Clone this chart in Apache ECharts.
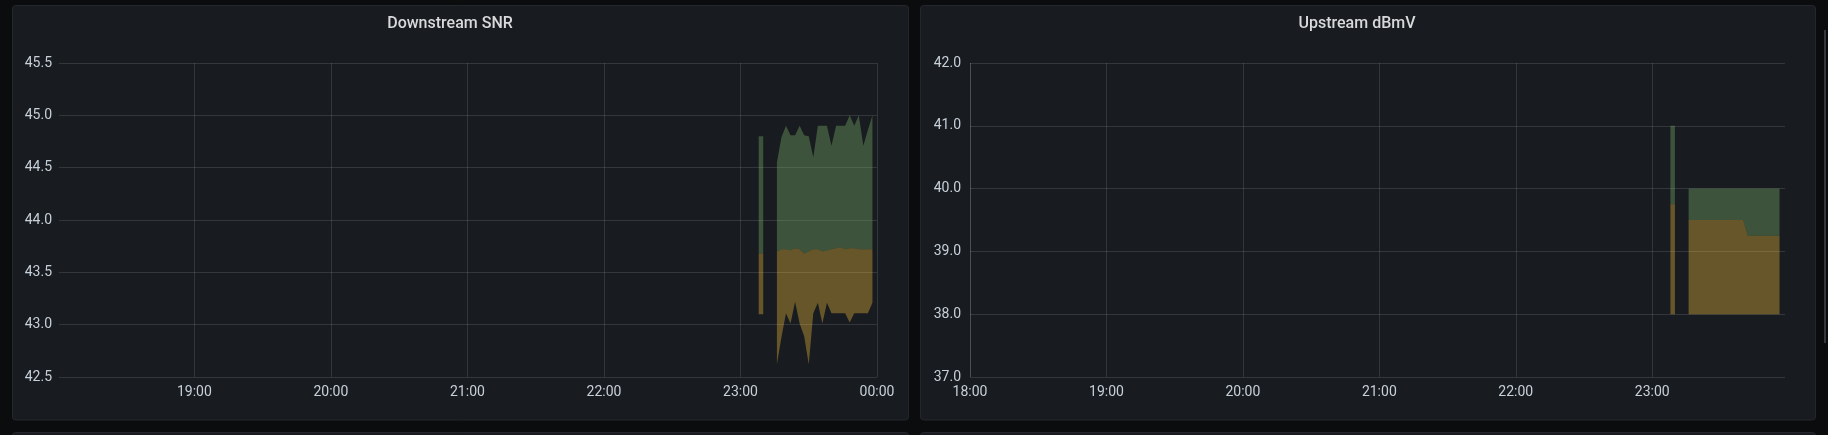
<!DOCTYPE html>
<html>
<head>
<meta charset="utf-8">
<script src="https://cdn.jsdelivr.net/npm/echarts@6/dist/echarts.min.js"></script>
<style>
  html, body { margin: 0; padding: 0; background: #0b0c0e; }
  #chart { width: 1828px; height: 435px; }
</style>
</head>
<body>
<div id="chart"></div>
<script>
// ---------- DATA ----------
const titles = ['Downstream SNR', 'Upstream dBmV'];

// Downstream SNR (2-minute samples, null = no data)
const dsTimes = ['23:08','23:10','23:12','23:14','23:16','23:18','23:20','23:22','23:24','23:26',
                 '23:28','23:30','23:32','23:34','23:36','23:38','23:40','23:42','23:44','23:46',
                 '23:48','23:50','23:52','23:54','23:56','23:58'];
const dsMax  = [44.80, 44.80, null, null, 44.55, 44.79, 44.90, 44.81, 44.81, 44.90,
                44.81, 44.80, 44.60, 44.90, 44.90, 44.90, 44.71, 44.90, 44.90, 44.90,
                45.00, 44.90, 45.00, 44.71, 44.86, 45.00];
const dsMean = [43.68, 43.68, null, null, 43.70, 43.72, 43.72, 43.71, 43.73, 43.72,
                43.68, 43.70, 43.72, 43.72, 43.70, 43.71, 43.72, 43.73, 43.74, 43.72,
                43.73, 43.73, 43.72, 43.72, 43.72, 43.72];
const dsMin  = [43.10, 43.10, null, null, 42.62, 42.88, 43.11, 43.01, 43.22, 43.01,
                42.89, 42.62, 43.11, 43.21, 43.01, 43.21, 43.11, 43.11, 43.11, 43.11,
                43.02, 43.11, 43.11, 43.11, 43.11, 43.21];

// Upstream dBmV
const usTimes = ['23:08','23:10','23:12','23:14','23:16','23:18','23:20','23:22','23:24','23:26',
                 '23:28','23:30','23:32','23:34','23:36','23:38','23:40','23:42','23:44','23:46',
                 '23:48','23:50','23:52','23:54','23:56'];
const usMax  = [41.00, 41.00, null, null, 40.00, 40.00, 40.00, 40.00, 40.00, 40.00,
                40.00, 40.00, 40.00, 40.00, 40.00, 40.00, 40.00, 40.00, 40.00, 40.00,
                40.00, 40.00, 40.00, 40.00, 40.00];
const usMean = [39.75, 39.75, null, null, 39.50, 39.50, 39.50, 39.50, 39.50, 39.50,
                39.50, 39.50, 39.50, 39.50, 39.50, 39.50, 39.50, 39.25, 39.25, 39.25,
                39.25, 39.25, 39.25, 39.25, 39.25];
const usMin  = [38.00, 38.00, null, null, 38.00, 38.00, 38.00, 38.00, 38.00, 38.00,
                38.00, 38.00, 38.00, 38.00, 38.00, 38.00, 38.00, 38.00, 38.00, 38.00,
                38.00, 38.00, 38.00, 38.00, 38.00];

// Axis ranges
const dsXRange = ['18:00:30', '00:00:00'];
const usXRange = ['18:00:00', '23:58:24'];
const dsYRange = [42.5, 45.5, 0.5];
const usYRange = [37.0, 42.0, 1.0];

// ---------- HELPERS ----------
function ts(hms) {
  const p = hms.split(':').map(Number);
  const h = p[0], m = p[1], s = p[2] || 0;
  const day = h < 12 ? 2 : 1;        // 00:xx belongs to the next day
  return Date.UTC(2021, 0, day, h, m, s);
}
function band(times, hi, lo) {
  return times.map((t, i) => [ts(t), (hi[i] == null || lo[i] == null) ? null : +(hi[i] - lo[i]).toFixed(4)]);
}
function base(times, v) {
  return times.map((t, i) => [ts(t), v[i]]);
}
function pad(n) { return (n < 10 ? '0' : '') + n; }
function fmtTime(v) { const d = new Date(v); return pad(d.getUTCHours()) + ':' + pad(d.getUTCMinutes()); }

const GREEN = 'rgba(126,178,109,0.37)';
const YELLOW = 'rgba(234,184,57,0.38)';
const TEXT = '#c7d0d9';
const GRIDLINE = 'rgba(240,250,255,0.13)';
const PANEL = '#181b1f';
const PANEL_BORDER = '#24262b';

function xAxis(gi, range, showMin, showMax, minLine, maxLine) {
  return {
    type: 'time', gridIndex: gi, min: ts(range[0]), max: ts(range[1]),
    minInterval: 3600000, maxInterval: 3600000, interval: 3600000,
    axisLine: { show: false }, axisTick: { show: false },
    splitLine: { show: true, showMinLine: minLine, showMaxLine: maxLine,
                 lineStyle: { color: GRIDLINE, width: 1 } },
    axisLabel: { color: TEXT, fontSize: 14, fontFamily: 'Roboto', margin: 8,
                 formatter: fmtTime, hideOverlap: false, showMinLabel: showMin, showMaxLabel: showMax }
  };
}
function yAxis(gi, r, margin) {
  return {
    type: 'value', gridIndex: gi, min: r[0], max: r[1], interval: r[2],
    axisLine: { show: false }, axisTick: { show: false },
    splitLine: { show: true, lineStyle: { color: GRIDLINE, width: 1 } },
    axisLabel: { color: TEXT, fontSize: 14, fontFamily: 'Roboto', margin: margin,
                 formatter: v => v.toFixed(1), showMinLabel: true, showMaxLabel: true }
  };
}
function stackSeries(gi, name, times, mx, mean, mn) {
  const common = { type: 'line', xAxisIndex: gi, yAxisIndex: gi, stack: name, showSymbol: false,
                   symbol: 'none', connectNulls: false, silent: true, animation: false,
                   lineStyle: { width: 0, opacity: 0 } };
  return [
    Object.assign({}, common, { name: name + '-min', data: base(times, mn) }),
    Object.assign({}, common, { name: name + '-mean', data: band(times, mean, mn),
                                areaStyle: { color: YELLOW, opacity: 1 } }),
    Object.assign({}, common, { name: name + '-max', data: band(times, mx, mean),
                                areaStyle: { color: GREEN, opacity: 1 } })
  ];
}

const chart = echarts.init(document.getElementById('chart'), null, { renderer: 'canvas' });
chart.setOption({
  backgroundColor: '#0b0c0e',
  animation: false,
  graphic: [
    { type: 'rect', z: -10, shape: { x: 12.5, y: 5.5, width: 896, height: 414.5, r: 3 },
      style: { fill: PANEL, stroke: PANEL_BORDER, lineWidth: 1 } },
    { type: 'rect', z: -10, shape: { x: 920.5, y: 5.5, width: 895, height: 414.5, r: 3 },
      style: { fill: PANEL, stroke: PANEL_BORDER, lineWidth: 1 } },
    { type: 'rect', z: -10, shape: { x: 12.5, y: 432.5, width: 896, height: 20, r: 3 },
      style: { fill: PANEL, stroke: PANEL_BORDER, lineWidth: 1 } },
    { type: 'rect', z: -10, shape: { x: 920.5, y: 432.5, width: 895, height: 20, r: 3 },
      style: { fill: PANEL, stroke: PANEL_BORDER, lineWidth: 1 } },
    { type: 'rect', z: -10, shape: { x: 1824, y: 30, width: 2, height: 313 },
      style: { fill: '#35373c' } },
    { type: 'text', x: 450, y: 24, style: { text: titles[0], fill: '#d8d9da', font: '500 16px Roboto',
      align: 'center', verticalAlign: 'middle' } },
    { type: 'text', x: 1357, y: 24, style: { text: titles[1], fill: '#d8d9da', font: '500 16px Roboto',
      align: 'center', verticalAlign: 'middle' } }
  ],
  grid: [
    { left: 59, top: 63, width: 818, height: 314, containLabel: false },
    { left: 970, top: 63, width: 815, height: 314, containLabel: false }
  ],
  xAxis: [ xAxis(0, dsXRange, false, true, false, true), xAxis(1, usXRange, true, false, true, false) ],
  yAxis: [ yAxis(0, dsYRange, 7), yAxis(1, usYRange, 9) ],
  series: [].concat(
    stackSeries(0, 'ds', dsTimes, dsMax, dsMean, dsMin),
    stackSeries(1, 'us', usTimes, usMax, usMean, usMin)
  )
});
</script>
</body>
</html>
